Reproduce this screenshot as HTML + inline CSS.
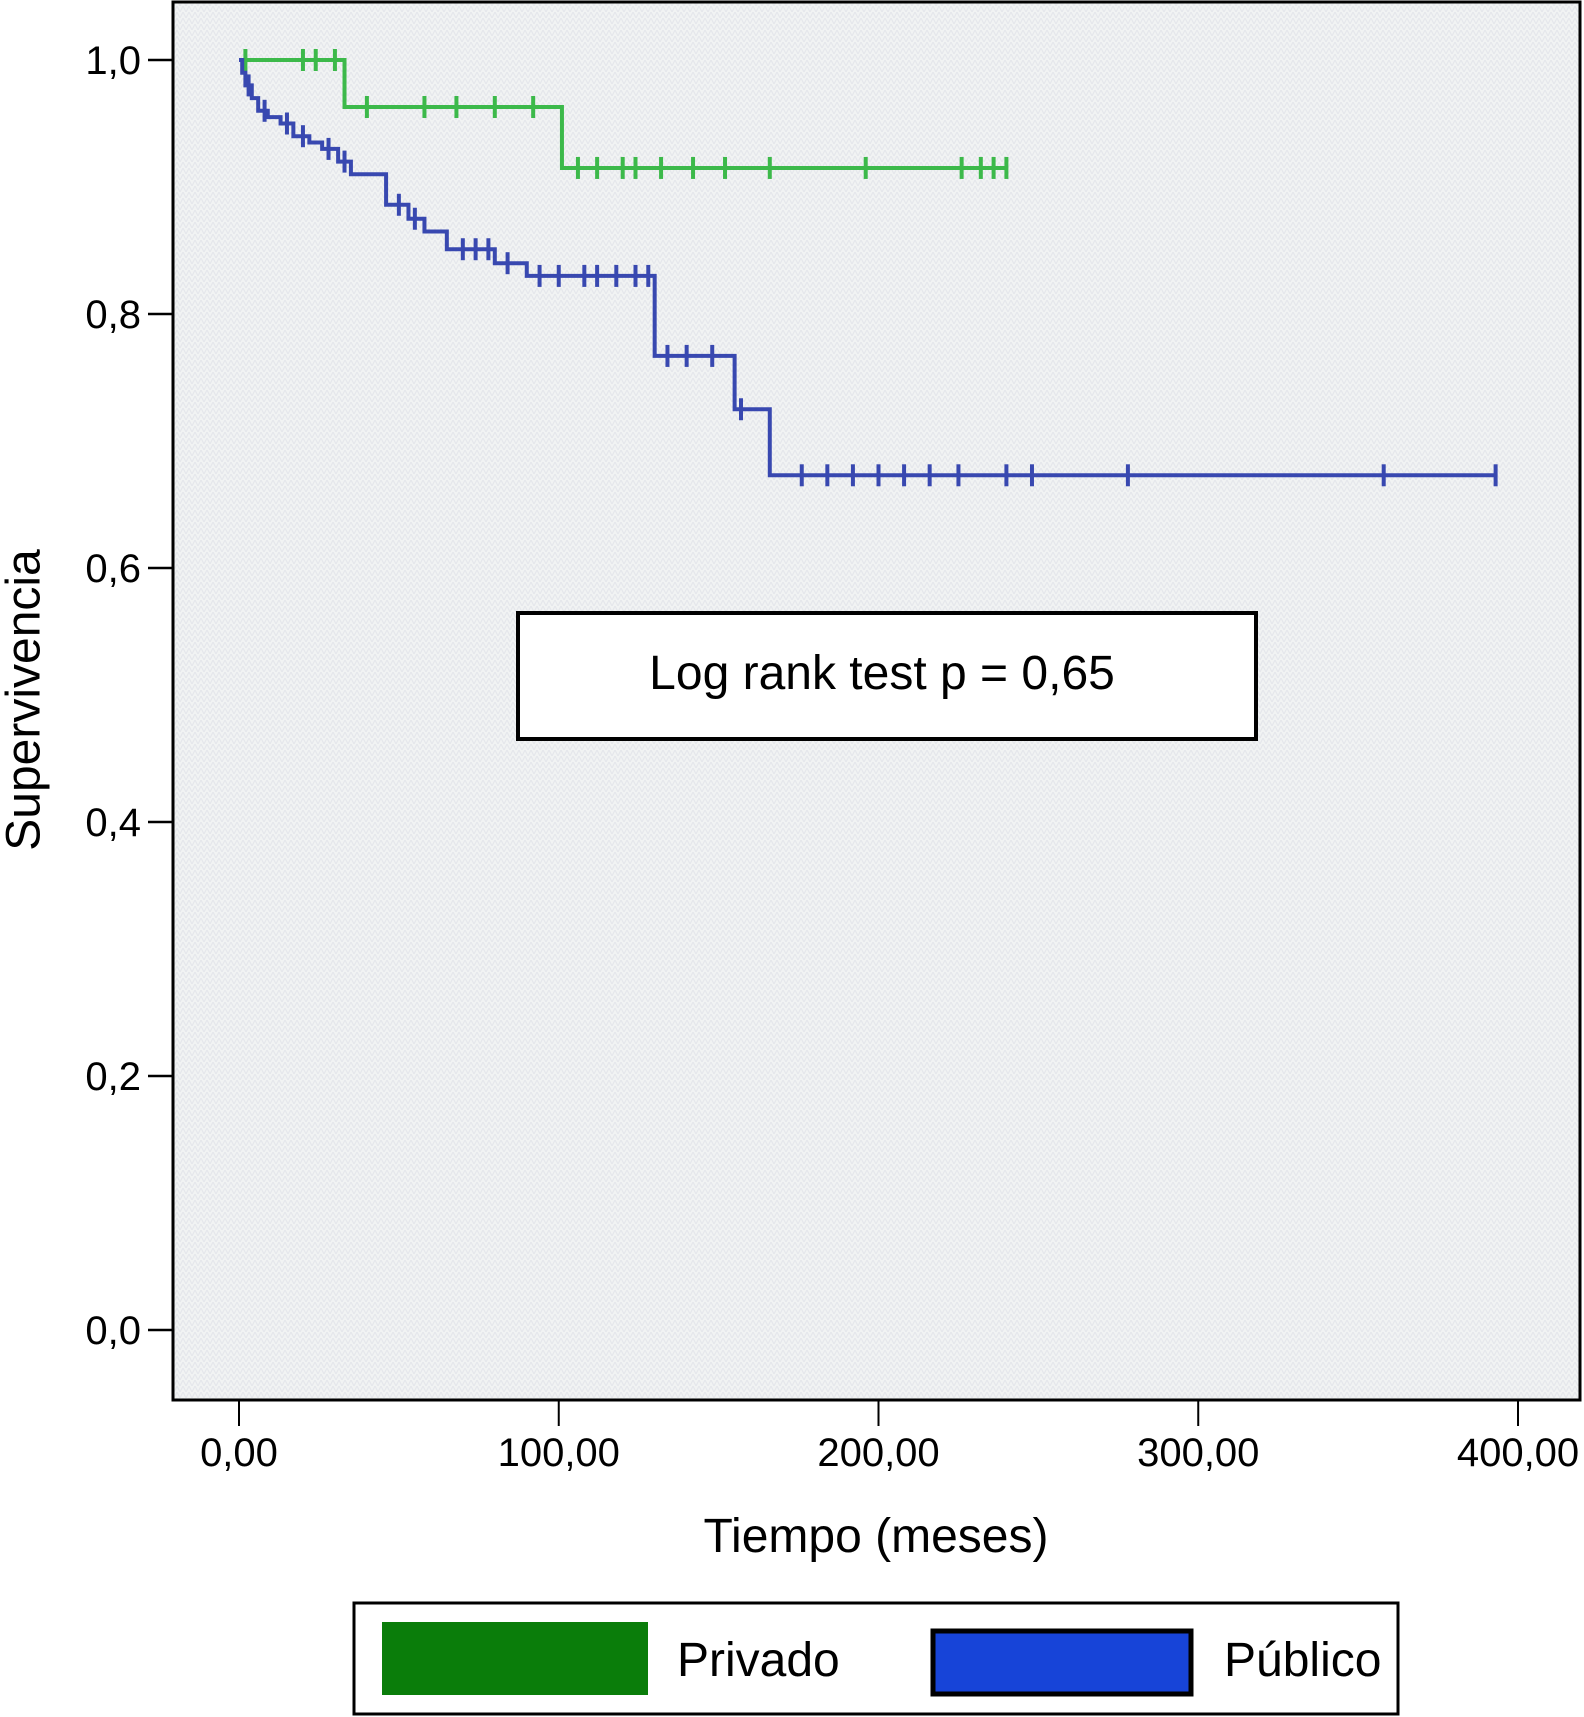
<!DOCTYPE html>
<html><head><meta charset="utf-8"><style>
html,body{margin:0;padding:0;background:#fff;}
svg{display:block;font-family:"Liberation Sans",sans-serif;}
</style></head><body>
<svg id="chart" width="1584" height="1717" viewBox="0 0 1584 1717">
<defs>
<pattern id="noise" width="6" height="6" patternUnits="userSpaceOnUse">
<rect width="6" height="6" fill="#f1f3f3"/>
<path d="M0 6 L3 0 L6 6" stroke="#e4e6ea" stroke-width="1" fill="none"/>
</pattern>
</defs>
<rect x="173" y="2" width="1407" height="1398" fill="url(#noise)" stroke="#000" stroke-width="3"/>
<g id="axes"></g>
<g id="series"></g>
<text x="27" y="700" font-size="48" text-anchor="middle" transform="rotate(-90 27 700)" dominant-baseline="middle">Supervivencia</text>
<text x="876" y="1552" font-size="48" text-anchor="middle">Tiempo (meses)</text>
<rect x="518" y="613" width="738" height="126" fill="#fff" stroke="#000" stroke-width="4"/>
<text x="882" y="689" font-size="48" text-anchor="middle">Log rank test p = 0,65</text>
<g>
<rect x="354" y="1603" width="1044" height="111" fill="#fff" stroke="#000" stroke-width="3"/>
<rect x="382" y="1622" width="266" height="73" fill="#0a7d0a"/>
<text x="677" y="1676" font-size="48">Privado</text>
<rect x="933" y="1631" width="258" height="63" fill="#1744d8" stroke="#000" stroke-width="5"/>
<text x="1224" y="1676" font-size="48">Público</text>
</g>
</svg>
<script>
const xTicks=[0,100,200,300,400];
const xTickLabels=["0,00","100,00","200,00","300,00","400,00"];
const yTicks=[0,0.2,0.4,0.6,0.8,1.0];
const yTickLabels=["0,0","0,2","0,4","0,6","0,8","1,0"];
const privadoTimes=[0,33,101];
const privadoSurv=[1.0,0.963,0.915];
const privadoEnd=240;
const privadoCensor=[[2,1.0],[20,1.0],[24,1.0],[30,1.0],[40,0.963],[58,0.963],[68,0.963],[80,0.963],[92,0.963],[106,0.915],[112,0.915],[120,0.915],[124,0.915],[132,0.915],[142,0.915],[152,0.915],[166,0.915],[196,0.915],[226,0.915],[232,0.915],[236,0.915],[240,0.915]];
const publicoTimes=[0,1,2,4,6,9,13,17,22,26,31,35,46,53,58,65,80,90,130,155,166];
const publicoSurv=[1.0,0.99,0.98,0.97,0.96,0.955,0.95,0.94,0.935,0.93,0.92,0.91,0.886,0.875,0.865,0.851,0.84,0.83,0.767,0.725,0.673];
const publicoEnd=393;
const publicoCensor=[[3,0.98],[8,0.96],[15,0.95],[20,0.94],[28,0.93],[33,0.92],[50,0.886],[55,0.875],[70,0.851],[74,0.851],[78,0.851],[84,0.84],[94,0.83],[100,0.83],[108,0.83],[112,0.83],[118,0.83],[124,0.83],[128,0.83],[134,0.767],[140,0.767],[148,0.767],[157,0.725],[176,0.673],[184,0.673],[192,0.673],[200,0.673],[208,0.673],[216,0.673],[225,0.673],[240,0.673],[248,0.673],[278,0.673],[358,0.673],[393,0.673]];

const NS="http://www.w3.org/2000/svg";
const X=v=>239+v*(1518-239)/400;
const Y=v=>1330-v*(1330-60);
function mk(tag,attrs,parent){const e=document.createElementNS(NS,tag);for(const k in attrs)e.setAttribute(k,attrs[k]);parent.appendChild(e);return e;}
const axes=document.getElementById('axes');
xTicks.forEach((t,i)=>{
  const l=mk('line',{x1:X(t),x2:X(t),y1:1401,y2:1426,stroke:'#000','stroke-width':2},axes);
  
  
  const tx=mk('text',{x:X(t),y:1466,'font-size':40,'text-anchor':'middle'},axes);
  tx.textContent=xTickLabels[i];
  
  
});
yTicks.forEach((t,i)=>{
  const l=mk('line',{x1:148,x2:173,y1:Y(t),y2:Y(t),stroke:'#000','stroke-width':2.5},axes);
  
  
  const tx=mk('text',{x:141,y:Y(t)+14,'font-size':40,'text-anchor':'end'},axes);
  tx.textContent=yTickLabels[i];
  
  
});
const series=document.getElementById('series');
function draw(times,surv,end,censor,color,name){
  let d='M'+X(times[0])+' '+Y(surv[0]);
  for(let i=1;i<times.length;i++){d+=' H'+X(times[i])+' V'+Y(surv[i]);}
  d+=' H'+X(end);
  const p=mk('path',{d:d,fill:'none',stroke:color,'stroke-width':4},series);
  
  
  censor.forEach(c=>{
    const m=mk('line',{x1:X(c[0]),x2:X(c[0]),y1:Y(c[1])-11,y2:Y(c[1])+11,stroke:color,'stroke-width':4},series);
    
    
  });
}
draw(privadoTimes,privadoSurv,privadoEnd,privadoCensor,'#3cb94a','privado');
draw(publicoTimes,publicoSurv,publicoEnd,publicoCensor,'#3848b0','publico');
</script>
</body></html>
